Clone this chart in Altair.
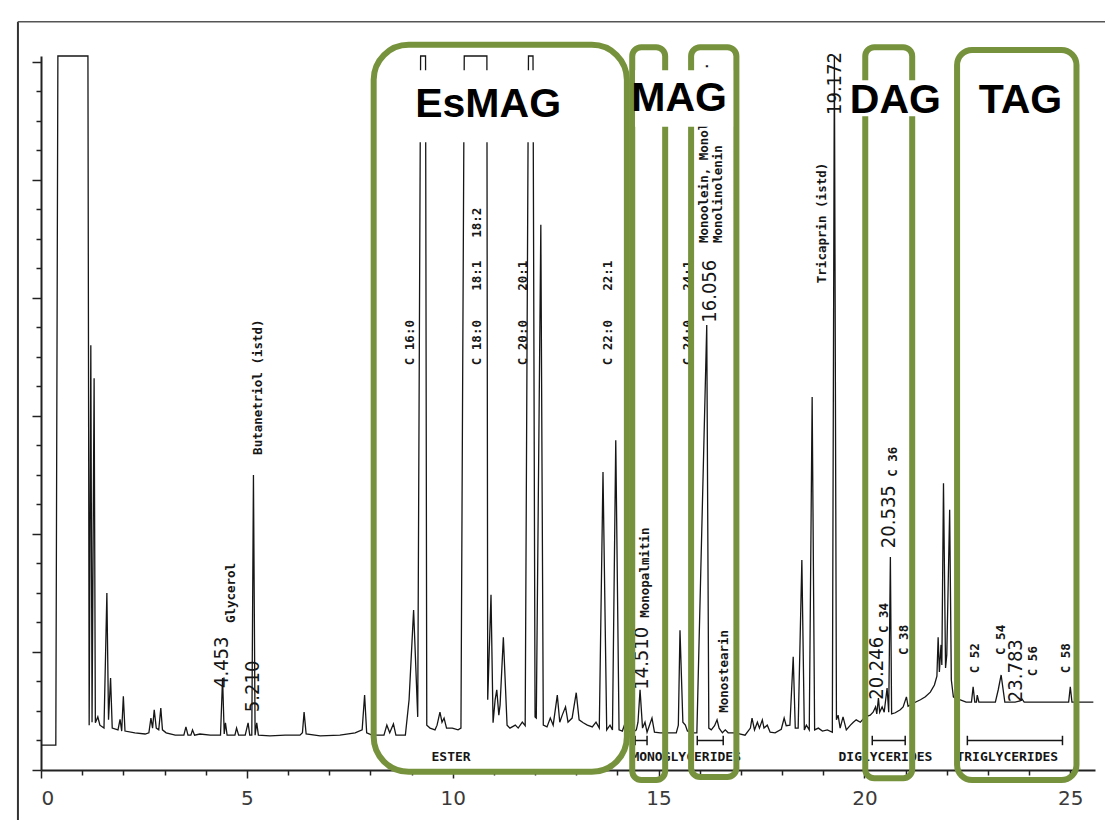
import altair as alt
import pandas as pd

# ---- chromatogram trace (retention time in min, detector signal, arbitrary units) ----
rt = [0.00, 0.36, 0.41, 1.14, 1.17, 1.21, 1.24, 1.29, 1.32, 1.38, 1.43, 1.53, 1.60, 1.64, 1.69, 1.73,
      1.87, 1.92, 1.96, 2.00, 2.04, 2.28, 2.53, 2.62, 2.67, 2.71, 2.75, 2.80, 2.86, 2.91, 2.95, 3.04,
      3.26, 3.47, 3.52, 3.57, 3.64, 3.68, 3.73, 3.86, 4.11, 4.36, 4.41, 4.45, 4.48, 4.52, 4.71, 4.75,
      4.80, 4.96, 5.03, 5.07, 5.12, 5.16, 5.20, 5.24, 5.28, 5.56, 5.93, 6.29, 6.35, 6.39, 6.44, 6.78,
      7.26, 7.63, 7.80, 7.86, 7.91, 8.04, 8.33, 8.40, 8.47, 8.56, 8.62, 8.85, 8.94, 9.05, 9.15, 9.22,
      9.34, 9.37, 9.45, 9.57, 9.62, 9.69, 9.74, 9.79, 9.85, 9.99, 10.13, 10.20, 10.28, 10.83, 10.85,
      10.93, 10.98, 11.03, 11.07, 11.12, 11.15, 11.23, 11.32, 11.39, 11.52, 11.59, 11.69, 11.76, 11.84,
      11.95, 12.00, 12.03, 12.14, 12.20, 12.29, 12.37, 12.44, 12.54, 12.60, 12.66, 12.74, 12.80, 12.90,
      13.00, 13.07, 13.17, 13.27, 13.39, 13.48, 13.56, 13.65, 13.74, 13.82, 13.88, 13.96, 14.04, 14.12,
      14.19, 14.26, 14.36, 14.46, 14.50, 14.55, 14.61, 14.67, 14.72, 14.84, 14.90, 15.04, 15.28, 15.43,
      15.48, 15.52, 15.59, 15.65, 15.70, 15.82, 15.93, 16.17, 16.22, 16.28, 16.36, 16.42, 16.47, 16.55,
      16.62, 16.69, 16.86, 17.10, 17.23, 17.27, 17.33, 17.40, 17.45, 17.52, 17.56, 17.64, 17.71, 17.83,
      17.98, 18.05, 18.10, 18.19, 18.27, 18.32, 18.39, 18.48, 18.54, 18.59, 18.66, 18.73, 18.79, 18.88,
      18.98, 19.10, 19.22, 19.27, 19.32, 19.36, 19.41, 19.48, 19.56, 19.66, 19.73, 19.80, 19.90, 20.02,
      20.14, 20.21, 20.27, 20.30, 20.34, 20.37, 20.43, 20.48, 20.55, 20.59, 20.63, 20.66, 20.75, 20.87,
      20.94, 21.02, 21.06, 21.21, 21.36, 21.48, 21.60, 21.70, 21.76, 21.79, 21.82, 21.86, 21.88, 21.92,
      21.97, 22.00, 22.07, 22.11, 22.16, 22.26, 22.33, 22.47, 22.60, 22.64, 22.68, 22.72, 22.74, 22.78,
      22.94, 23.18, 23.25, 23.32, 23.41, 23.66, 23.78, 23.83, 23.88, 24.27, 24.76, 24.96, 25.00, 25.04,
      25.56]
signal = [4.2, 4.2, 121.0, 121.0, 7.6, 72.0, 8.1, 66.4, 8.0, 9.0, 7.6, 7.1, 30.0, 8.5, 15.6, 7.1,
          6.8, 8.6, 6.6, 12.5, 6.6, 6.3, 6.1, 6.3, 8.8, 7.1, 10.2, 7.1, 6.8, 10.5, 6.8, 6.3,
          5.9, 5.9, 7.3, 5.9, 5.9, 6.8, 5.9, 6.1, 5.9, 5.9, 15.6, 6.1, 8.0, 5.9, 5.9, 7.1,
          5.9, 5.9, 8.0, 5.9, 5.9, 50.0, 5.9, 8.0, 5.9, 5.8, 5.9, 5.9, 6.3, 9.8, 6.1, 5.8,
          5.9, 6.3, 6.8, 12.7, 6.3, 5.9, 5.9, 7.6, 6.3, 7.8, 5.9, 5.9, 11.9, 27.1, 9.0, 121.0,
          121.0, 7.6, 7.1, 6.8, 7.6, 9.8, 8.1, 8.8, 7.1, 7.1, 6.8, 7.1, 121.0, 121.0, 11.9,
          29.7, 8.0, 11.9, 13.6, 9.3, 11.0, 22.5, 7.6, 7.1, 7.6, 7.1, 8.1, 7.5, 121.0,
          121.0, 9.0, 8.8, 92.4, 7.6, 7.3, 8.8, 7.6, 12.7, 8.1, 9.3, 10.7, 8.1, 8.8,
          13.1, 8.5, 8.0, 7.6, 7.3, 8.1, 7.1, 50.5, 6.8, 7.6, 6.8, 55.9, 6.8, 6.6,
          8.0, 6.6, 6.3, 6.8, 8.1, 13.6, 7.1, 8.1, 6.4, 8.8, 6.4, 6.3, 6.3, 6.3,
          7.6, 23.7, 8.1, 7.6, 6.6, 6.3, 6.3, 75.4, 7.1, 6.8, 7.5, 8.5, 7.1, 6.3,
          6.8, 6.3, 6.3, 5.9, 7.1, 8.8, 6.8, 8.1, 7.1, 8.5, 7.1, 7.6, 6.4, 6.3,
          6.9, 8.8, 7.5, 7.6, 19.2, 7.1, 7.1, 35.6, 6.8, 7.6, 6.8, 63.2, 6.8, 7.1,
          6.6, 6.8, 6.4, 121.0, 8.5, 9.3, 7.1, 9.0, 6.8, 7.6, 8.1, 8.5, 8.1, 9.0,
          9.3, 9.8, 10.7, 9.5, 12.2, 9.8, 10.7, 9.8, 13.9, 9.8, 36.1, 9.5, 9.7, 10.2,
          10.7, 12.4, 10.8, 11.4, 11.9, 12.4, 13.2, 14.4, 15.9, 22.5, 16.6, 21.2, 17.8, 48.6,
          17.3, 19.5, 44.1, 15.3, 12.4, 11.9, 11.9, 11.5, 11.5, 14.1, 11.5, 11.5, 12.7, 11.5,
          11.5, 11.5, 13.6, 16.1, 11.5, 11.5, 11.7, 12.0, 11.5, 11.5, 11.5, 11.5, 14.1, 11.5,
          11.5]

# ---- peak annotations (rotated) ----
num_text = ["4.453", "5.210", "14.510", "16.056", "19.172", "20.246", "20.535", "23.783"]
num_t = [4.40, 5.15, 14.60, 16.25, 19.29, 20.31, 20.60, 23.69]
num_v = [13.9, 9.8, 13.6, 75.8, 111.0, 11.9, 37.6, 11.5]

name_text = ["Glycerol", "Butanetriol (istd)", "C 16:0", "C 18:0", "18:1", "18:2", "C 20:0", "20:1",
             "C 22:0", "22:1", "C 24:0", "24:1", "Monopalmitin", "Monoolein, Monolinolein.",
             "Monolinolenin", "Monostearin", "Tricaprin (istd)", "C 34", "C 36", "C 38",
             "C 52", "C 54", "C 56", "C 58"]
name_t = [4.62, 5.27, 8.97, 10.59, 10.59, 10.59, 11.71, 11.71, 13.78, 13.78, 15.72, 15.72,
          14.67, 16.11, 16.45, 16.59, 18.97, 20.48, 20.70, 20.97, 22.69, 23.32, 24.10, 24.90]
name_v = [24.9, 53.4, 68.6, 68.6, 81.2, 90.2, 68.6, 81.2, 68.6, 81.2, 68.6, 81.2,
          25.8, 89.3, 89.3, 9.7, 82.5, 23.2, 49.7, 19.5, 16.4, 19.5, 15.9, 16.4]

# ---- class labels under the baseline ----
class_text = ["ESTER", "MONOGLYCERIDES", "DIGLYCERIDES", "TRIGLYCERIDES"]
class_t = [9.96, 15.67, 20.51, 23.47]
class_v = [2.2, 2.2, 2.2, 2.2]

bar_start = [14.43, 15.94, 20.19, 22.50]
bar_end = [14.72, 16.57, 20.99, 24.81]
bar_v = [5.0, 5.0, 5.0, 5.0]

# ---- highlighted groups ----
box_t0 = [8.08, 14.36, 15.79, 20.02, 22.25]
box_t1 = [14.23, 15.16, 16.89, 21.16, 25.15]
box_v0 = [-0.3, -1.7, -1.2, -1.4, -1.7]
box_v1 = [122.9, 122.5, 122.5, 122.5, 122.0]
box_radius = [35, 9, 9, 9, 15]

patch_t0 = [8.72, 14.43, 19.58]
patch_t1 = [13.10, 16.81, 21.48]
patch_v0 = [106.4, 109.0, 110.8]
patch_v1 = [118.6, 118.6, 116.9]

group_text = ["EsMAG", "MAG", "DAG", "TAG"]
group_t = [10.86, 15.50, 20.75, 23.79]
group_v = [110.7, 111.7, 111.4, 111.4]

x_ticks = list(range(0, 26))
y_ticks = list(range(0, 121, 5))

GREEN = "#76923C"
INK = "#161616"

xs = alt.Scale(domain=[0, 25.6], nice=False, zero=False)
ys = alt.Scale(domain=[0, 121], nice=False, zero=False)

x_axis = alt.Axis(values=x_ticks, title=None, grid=False, labelOverlap=False,
                  labelExpr="datum.value % 5 === 0 ? datum.label : ''",
                  tickSize={"condition": {"test": "datum.value % 5 === 0", "value": 8}, "value": 5},
                  domainColor="#222", domainWidth=2, tickColor="#222", tickWidth=1.5,
                  labelFont="DejaVu Sans", labelFontSize=20, labelColor="#3a3a3a", labelPadding=10)
y_axis = alt.Axis(values=y_ticks, title=None, grid=False, labels=False,
                  tickSize={"condition": {"test": "datum.value % 20 === 0", "value": 9}, "value": 5},
                  domainColor="#222", domainWidth=2, tickColor="#222", tickWidth=1.5)


def X(field):
    return alt.X(field, type="quantitative", scale=xs, axis=x_axis)


def Y(field):
    return alt.Y(field, type="quantitative", scale=ys, axis=y_axis)


trace_df = pd.DataFrame({"t": rt, "v": signal, "i": list(range(len(rt)))})

trace = alt.Chart(trace_df).mark_line(color=INK, strokeWidth=1.3).encode(
    x=X("t"), y=Y("v"), order="i:Q")

nums = alt.Chart(pd.DataFrame({"t": num_t, "v": num_v, "s": num_text})).mark_text(
    angle=270, align="left", baseline="middle", font="DejaVu Sans Condensed", fontSize=20,
    color=INK).encode(x=X("t"), y=Y("v"), text="s:N")

names = alt.Chart(pd.DataFrame({"t": name_t, "v": name_v, "s": name_text})).mark_text(
    angle=270, align="left", baseline="middle", font="DejaVu Sans Mono", fontSize=12.5,
    fontWeight="bold", color=INK).encode(x=X("t"), y=Y("v"), text="s:N")

classes = alt.Chart(pd.DataFrame({"t": class_t, "v": class_v, "s": class_text})).mark_text(
    align="center", baseline="middle", font="DejaVu Sans Mono", fontSize=13,
    fontWeight="bold", color=INK).encode(x=X("t"), y=Y("v"), text="s:N")

bars_df = pd.DataFrame({"a": bar_start, "b": bar_end, "v": bar_v})
bars = alt.Chart(bars_df).mark_rule(color=INK, strokeWidth=1.5).encode(
    x=X("a"), x2="b:Q", y=Y("v"))
caps_df = pd.DataFrame({"t": bar_start + bar_end, "lo": [4.2] * 8, "hi": [5.8] * 8})
caps = alt.Chart(caps_df).mark_rule(color=INK, strokeWidth=1.5).encode(
    x=X("t"), y=Y("lo"), y2="hi:Q")

boxes_df = pd.DataFrame({"t0": box_t0, "t1": box_t1, "v0": box_v0, "v1": box_v1, "r": box_radius})
box_layers = []
for r in sorted(set(box_radius)):
    box_layers.append(
        alt.Chart(boxes_df[boxes_df["r"] == r]).mark_rect(
            filled=False, stroke=GREEN, strokeWidth=6, cornerRadius=r).encode(
            x=X("t0"), x2="t1:Q", y=Y("v0"), y2="v1:Q"))

patches = alt.Chart(pd.DataFrame({"t0": patch_t0, "t1": patch_t1, "v0": patch_v0, "v1": patch_v1})
                    ).mark_rect(color="white").encode(
    x=X("t0"), x2="t1:Q", y=Y("v0"), y2="v1:Q")

groups = alt.Chart(pd.DataFrame({"t": group_t, "v": group_v, "s": group_text})).mark_text(
    align="center", baseline="alphabetic", font="Liberation Sans", fontSize=41,
    fontWeight="bold", color="#000").encode(x=X("t"), y=Y("v"), text="s:N")

frame_left = alt.Chart(pd.DataFrame({"t": [-0.56], "lo": [-12.0], "hi": [126.8]})).mark_rule(
    color="#333", strokeWidth=2).encode(x=X("t"), y=Y("lo"), y2="hi:Q")
frame_top = alt.Chart(pd.DataFrame({"a": [-0.56], "b": [26.5], "v": [126.8]})).mark_rule(
    color="#555", strokeWidth=1.5).encode(x=X("a"), x2="b:Q", y=Y("v"))

chart = alt.layer(
    trace, nums, names, classes, bars, caps, *box_layers, patches, groups, frame_left, frame_top
).properties(
    width=1054, height=714,
    autosize=alt.AutoSizeParams(type="none"),
    padding={"left": 33, "top": 48, "right": 10, "bottom": 50},
).configure_view(strokeWidth=0)

chart.save("out.html", embed_options={"renderer": "svg", "actions": False})
